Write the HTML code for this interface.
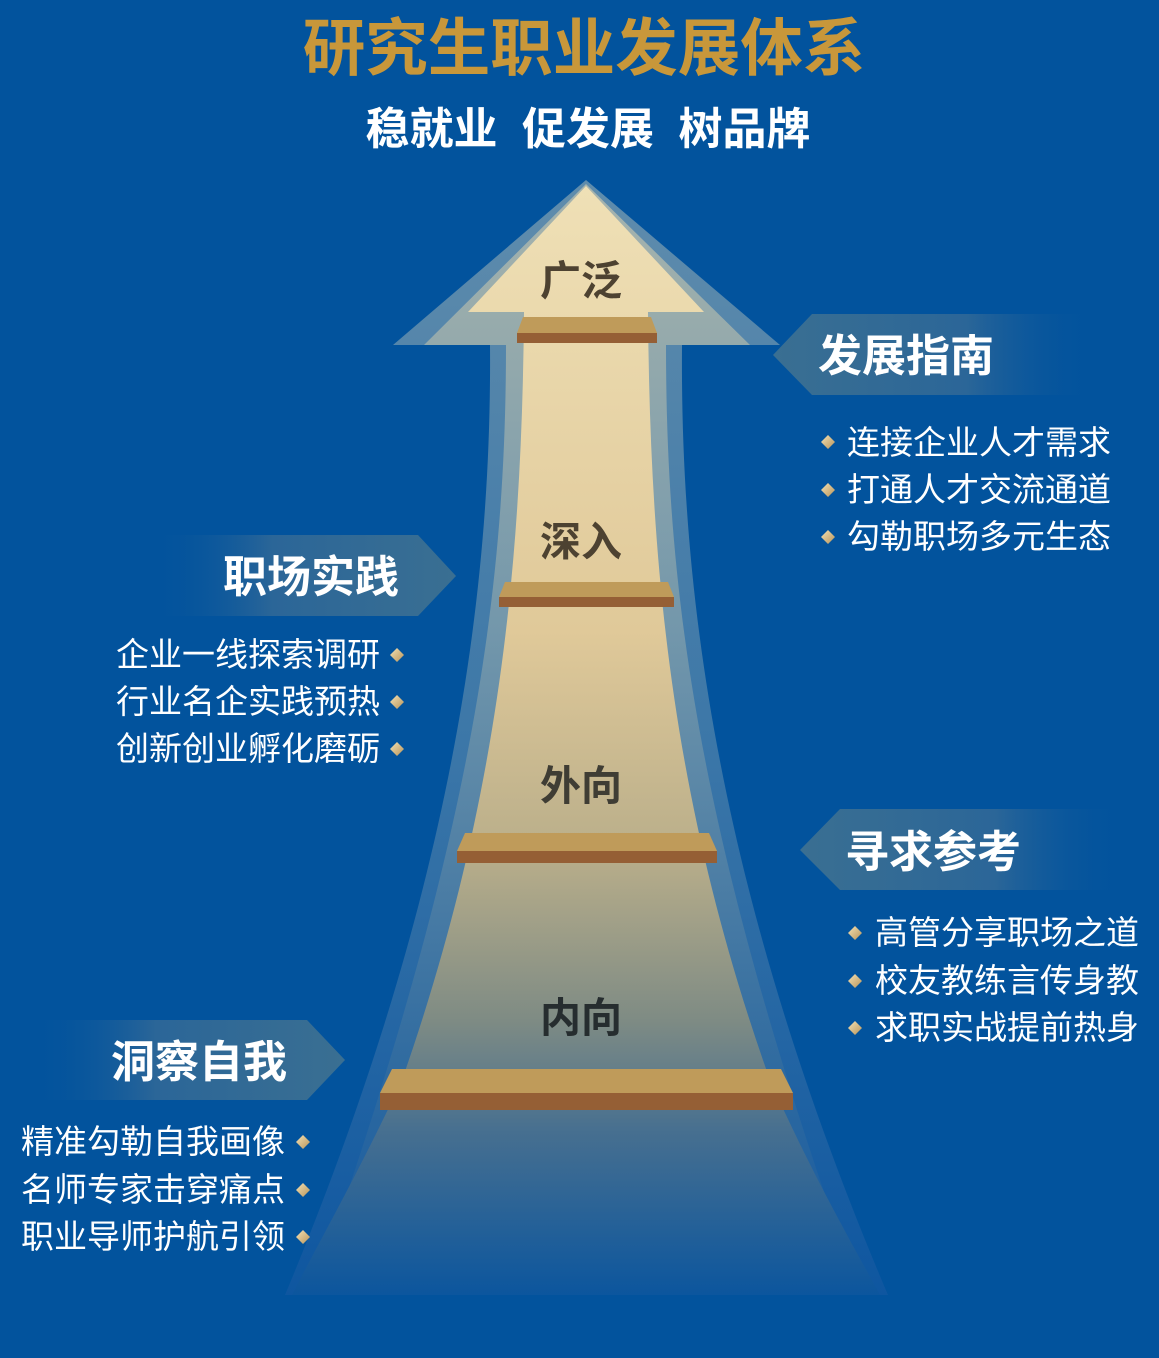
<!DOCTYPE html>
<html><head><meta charset="utf-8"><style>
html,body{margin:0;padding:0;background:#02539d;}
body{width:1159px;height:1358px;overflow:hidden;position:relative;font-family:"Liberation Sans","Noto Sans CJK SC",sans-serif;}
svg{position:absolute;left:0;top:0;}
</style></head><body>
<svg width="1159" height="1358" viewBox="0 0 1159 1358" xmlns="http://www.w3.org/2000/svg">
<defs>
<linearGradient id="cr" x1="0" y1="185" x2="0" y2="1300" gradientUnits="userSpaceOnUse">
<stop offset="0" stop-color="#efe0b6"/>
<stop offset="0.4" stop-color="#e0c999"/>
<stop offset="0.6" stop-color="#b9ae8a"/>
<stop offset="0.75" stop-color="#7e8b84"/>
<stop offset="0.85" stop-color="#466f90"/>
<stop offset="1" stop-color="#0a559e"/>
</linearGradient>
<linearGradient id="mid" x1="0" y1="185" x2="0" y2="1300" gradientUnits="userSpaceOnUse">
<stop offset="0" stop-color="#a7b4ad"/>
<stop offset="0.4" stop-color="#7397ab"/>
<stop offset="0.8" stop-color="#2e6aa0"/>
<stop offset="1" stop-color="#1257a0"/>
</linearGradient>
<linearGradient id="outer" x1="0" y1="185" x2="0" y2="1300" gradientUnits="userSpaceOnUse">
<stop offset="0" stop-color="#5f8cac"/>
<stop offset="0.5" stop-color="#3c77a8"/>
<stop offset="1" stop-color="#0e56a0"/>
</linearGradient>
<linearGradient id="bl" x1="0" y1="0" x2="1" y2="0">
<stop offset="0" stop-color="#3a6f92"/>
<stop offset="0.6" stop-color="#2b6698"/>
<stop offset="1" stop-color="#02539d" stop-opacity="0"/>
</linearGradient>
<linearGradient id="br" x1="1" y1="0" x2="0" y2="0">
<stop offset="0" stop-color="#3a6f92"/>
<stop offset="0.6" stop-color="#2b6698"/>
<stop offset="1" stop-color="#02539d" stop-opacity="0"/>
</linearGradient>
<linearGradient id="dia" x1="0" y1="0" x2="1" y2="1">
<stop offset="0" stop-color="#f4e2b5"/><stop offset="1" stop-color="#b8945a"/>
</linearGradient>
</defs>
<path d="M586,180 L780,345 L682,345 C680,600 720,900 888,1295 L285,1295 C450,900 492,600 490,345 L393,345 Z" fill="url(#outer)"/>
<path d="M586,184 L750,345 L666,345 C666,600 700,850 860,1295 L312,1295 C470,850 506,600 506,345 L424,345 Z" fill="url(#mid)"/>
<path d="M586,186 L704,312 L648,312 C650,560 670,800 770,1080 C810,1170 850,1240 880,1295 L292,1295 C320,1240 360,1170 402,1080 C500,800 522,560 524,312 L468,312 Z" fill="url(#cr)"/>
<polygon points="523,317 651,317 657,333 517,333" fill="#bf9b5a"/>
<rect x="517" y="333" width="140" height="10" fill="#955f35"/>
<polygon points="505,582 668,582 674,597 499,597" fill="#bf9b5a"/>
<rect x="499" y="597" width="175" height="10" fill="#955f35"/>
<polygon points="465,833 709,833 717,851 457,851" fill="#bf9b5a"/>
<rect x="457" y="851" width="260" height="12" fill="#955f35"/>
<polygon points="392,1069 781,1069 793,1093 380,1093" fill="#bf9b5a"/>
<rect x="380" y="1093" width="413" height="17" fill="#955f35"/>
<g font-family="Liberation Sans,Noto Sans CJK SC,sans-serif" font-weight="bold" font-size="41" text-anchor="middle">
<text x="581" y="295" fill="#4d4231">广泛</text>
<text x="581" y="556" fill="#4d4231">深入</text>
<text x="581" y="800" fill="#3f3d34">外向</text>
<text x="581" y="1032" fill="#262d2f">内向</text>
</g>
<text x="584" y="70" text-anchor="middle" font-family="Liberation Sans,Noto Sans CJK SC,sans-serif" font-weight="bold" font-size="62.5" fill="#c8973a">研究生职业发展体系</text>
<text x="588" y="144" text-anchor="middle" font-family="Liberation Sans,Noto Sans CJK SC,sans-serif" font-weight="bold" font-size="44" fill="#ffffff" xml:space="preserve">稳就业  促发展  树品牌</text>
<polygon points="812,314 1095,314 1095,395 812,395 773,355" fill="url(#bl)"/>
<polygon points="418,535 150,535 150,616 418,616 456,576" fill="url(#br)"/>
<polygon points="840,809 1125,809 1125,890 840,890 800,850" fill="url(#bl)"/>
<polygon points="307,1020 30,1020 30,1100 307,1100 345,1060" fill="url(#br)"/>
<g font-family="Liberation Sans,Noto Sans CJK SC,sans-serif" font-weight="bold" font-size="44" fill="#fff">
<text x="818" y="371">发展指南</text>
<text x="399" y="592" text-anchor="end">职场实践</text>
<text x="845" y="867">寻求参考</text>
<text x="287" y="1077" text-anchor="end">洞察自我</text>
</g>
<g font-family="Liberation Sans,Noto Sans CJK SC,sans-serif" font-size="33" fill="#fff">
<text x="847" y="454">连接企业人才需求</text>
<text x="847" y="501">打通人才交流通道</text>
<text x="847" y="548">勾勒职场多元生态</text>
<text x="380" y="666" text-anchor="end">企业一线探索调研</text>
<text x="380" y="713" text-anchor="end">行业名企实践预热</text>
<text x="380" y="760" text-anchor="end">创新创业孵化磨砺</text>
<text x="875" y="944">高管分享职场之道</text>
<text x="875" y="992">校友教练言传身教</text>
<text x="875" y="1039">求职实战提前热身</text>
<text x="285" y="1153" text-anchor="end">精准勾勒自我画像</text>
<text x="285" y="1201" text-anchor="end">名师专家击穿痛点</text>
<text x="285" y="1248" text-anchor="end">职业导师护航引领</text>
</g>
<g fill="url(#dia)">
<polygon points="828,435 835,442 828,449 821,442"/>
<polygon points="828,483 835,490 828,497 821,490"/>
<polygon points="828,530 835,537 828,544 821,537"/>
<polygon points="397,648 404,655 397,662 390,655"/>
<polygon points="397,695 404,702 397,709 390,702"/>
<polygon points="397,742 404,749 397,756 390,749"/>
<polygon points="855,926 862,933 855,940 848,933"/>
<polygon points="855,974 862,981 855,988 848,981"/>
<polygon points="855,1021 862,1028 855,1035 848,1028"/>
<polygon points="303,1135 310,1142 303,1149 296,1142"/>
<polygon points="303,1183 310,1190 303,1197 296,1190"/>
<polygon points="303,1230 310,1237 303,1244 296,1237"/>
</g>
</svg>
</body></html>
